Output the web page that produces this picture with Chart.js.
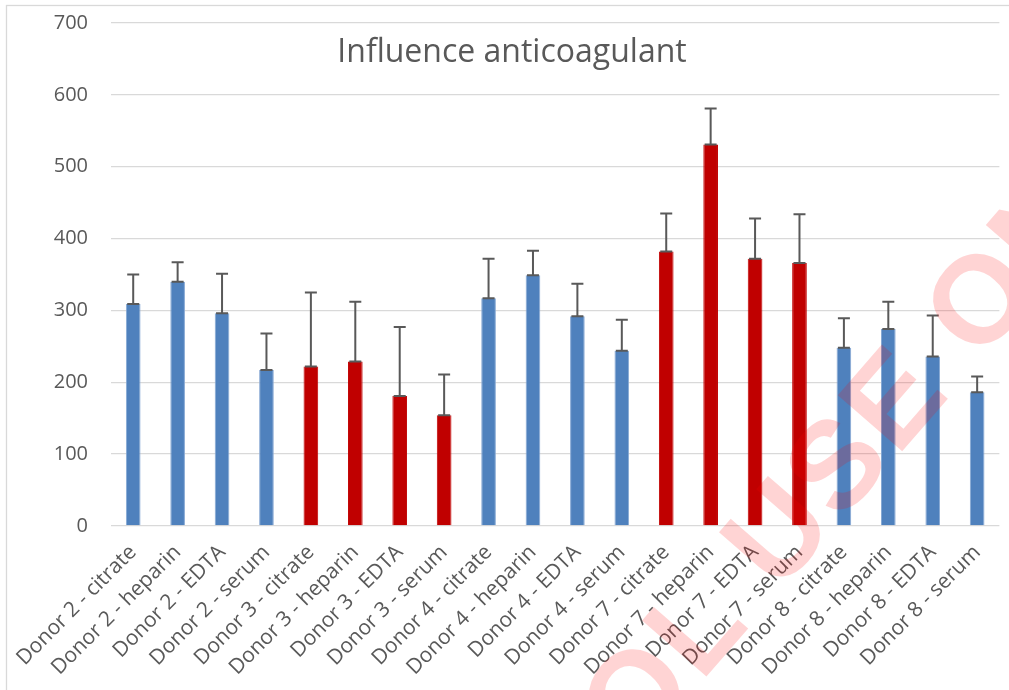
<!DOCTYPE html>
<html>
<head>
<meta charset="utf-8">
<script src="https://cdn.jsdelivr.net/npm/chart.js@4/dist/chart.umd.min.js"></script>
<style>
  html, body { margin: 0; padding: 0; background: #fff; }
</style>
</head>
<body>
<canvas id="chart" width="1009" height="690"></canvas>
<script>
const labels = [
  'Donor 2 - citrate', 'Donor 2 - heparin', 'Donor 2 - EDTA', 'Donor 2 - serum',
  'Donor 3 - citrate', 'Donor 3 - heparin', 'Donor 3 - EDTA', 'Donor 3 - serum',
  'Donor 4 - citrate', 'Donor 4 - heparin', 'Donor 4 - EDTA', 'Donor 4 - serum',
  'Donor 7 - citrate', 'Donor 7 - heparin', 'Donor 7 - EDTA', 'Donor 7 - serum',
  'Donor 8 - citrate', 'Donor 8 - heparin', 'Donor 8 - EDTA', 'Donor 8 - serum'
];
const values = [309, 340, 296, 217, 222, 229, 181, 154, 317, 349, 292, 244, 382, 531, 372, 366, 248, 274, 236, 186];
const errors = [41, 27, 55, 51, 103, 83, 96, 57, 55, 34, 45, 43, 53, 50, 56, 68, 41, 38, 57, 22];
const highlightDonors = ['Donor 3', 'Donor 7'];
const yMin = 0, yMax = 700, yStep = 100;
const title = 'Influence anticoagulant';
const watermark = 'CONTROL USE ONLY';

const BLUE = '#4F81BD', RED = '#C00000', TEXT = '#595959', GRID = '#D9D9D9';
const isRed = labels.map(l => highlightDonors.some(d => l.startsWith(d)));
const barColors = isRed.map(r => r ? RED : BLUE);
const barEdges = isRed.map(r => r ? RED : '#86A8D4');

Chart.defaults.font.family = "'Open Sans', sans-serif";
Chart.defaults.color = TEXT;

// outer frame + title
const frame = {
  id: 'frame',
  beforeDraw(chart) {
    const ctx = chart.ctx;
    ctx.save();
    ctx.strokeStyle = GRID;
    ctx.lineWidth = 1.3;
    ctx.strokeRect(6.5, 5.5, 1100, 800);
    ctx.restore();
  },
  afterDraw(chart) {
    const ctx = chart.ctx;
    ctx.save();
    ctx.fillStyle = TEXT;
    ctx.font = "32px 'Open Sans', sans-serif";
    ctx.textAlign = 'center';
    ctx.textBaseline = 'alphabetic';
    ctx.fillText(title, 512, 62);
    ctx.restore();
  }
};

// upper error bars with caps
const errorBars = {
  id: 'errorBars',
  afterDatasetsDraw(chart) {
    const ctx = chart.ctx;
    const y = chart.scales.y;
    const meta = chart.getDatasetMeta(0);
    ctx.save();
    ctx.strokeStyle = TEXT;
    ctx.lineWidth = 2;
    meta.data.forEach((bar, i) => {
      const x = bar.x;
      const yBar = bar.y;
      const yTop = y.getPixelForValue(values[i] + errors[i]);
      ctx.beginPath();
      ctx.moveTo(x, yBar);
      ctx.lineTo(x, yTop);
      ctx.moveTo(x - 6, yTop);
      ctx.lineTo(x + 6, yTop);
      ctx.moveTo(x - 6, yBar);
      ctx.lineTo(x + 6, yBar);
      ctx.stroke();
    });
    ctx.restore();
  },
  afterDraw(chart) {
    // pink watermark on top
    const ctx = chart.ctx;
    ctx.save();
    ctx.font = "bold 124px 'Liberation Sans', Arial, sans-serif";
    ctx.letterSpacing = '4px';
    ctx.fillStyle = 'rgba(255, 0, 0, 0.17)';
    ctx.translate(892, 396);
    ctx.rotate(-49 * Math.PI / 180);
    const before = ctx.measureText('CONTROL US').width;
    const eW = ctx.measureText('E').width;
    ctx.textBaseline = 'alphabetic';
    ctx.fillText(watermark, -(before + eW / 2), 44);
    ctx.restore();
  }
};

new Chart(document.getElementById('chart'), {
  type: 'bar',
  data: {
    labels: labels,
    datasets: [{
      data: values,
      backgroundColor: barColors,
      borderColor: barEdges,
      borderWidth: { left: 1, right: 1, top: 0, bottom: 0 },
      borderSkipped: false,
      categoryPercentage: 1,
      barPercentage: 0.33
    }]
  },
  options: {
    responsive: false,
    animation: false,
    layout: { padding: { top: 23, left: 11, right: 1, bottom: 0 } },
    plugins: { legend: { display: false }, tooltip: { enabled: false } },
    scales: {
      x: {
        grid: { display: false, drawTicks: false },
        border: { display: false },
        ticks: {
          autoSkip: false, minRotation: 45, maxRotation: 45,
          padding: 14,
          font: { size: 21 }, color: TEXT
        },
        afterFit(s) { s.height = 164; s.paddingTop = 0; s.paddingBottom = 0; }
      },
      y: {
        min: yMin, max: yMax,
        grid: { color: GRID, lineWidth: 1.3, drawTicks: false },
        border: { display: false },
        ticks: { stepSize: yStep, padding: 23, font: { size: 20 }, color: TEXT },
        afterFit(s) { s.width = 100; s.paddingTop = 0; s.paddingBottom = 0; }
      }
    }
  },
  plugins: [frame, errorBars]
});
</script>
</body>
</html>
